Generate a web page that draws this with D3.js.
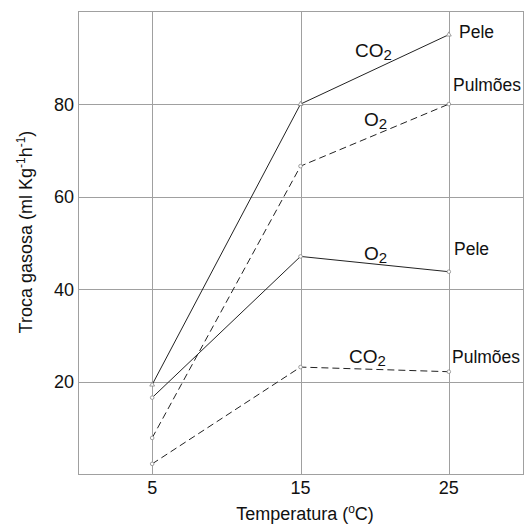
<!DOCTYPE html>
<html>
<head>
<meta charset="utf-8">
<script src="https://d3js.org/d3.v7.min.js"></script>
<style>
body { margin: 0; background: #fff; }
svg { font-family: "Liberation Sans", Arial, sans-serif; }
.grid line { stroke: #a0a0a0; stroke-width: 1; shape-rendering: crispEdges; }
</style>
</head>
<body>
<div id="canvas"></div>
<script>
var temps = [5, 15, 25];
var xTicks = [5, 15, 25];
var yTicks = [20, 40, 60, 80];
var co2Pele = [19.4, 80, 95];
var o2Pulmoes = [7.9, 66.6, 80];
var o2Pele = [16.6, 47.1, 43.8];
var co2Pulmoes = [2.3, 23.2, 22.2];

var width = 527, height = 525,
    pLeft = 78, pRight = 523, pTop = 11.5, pBottom = 474.5;

var svg = d3.select("#canvas").append("svg")
    .attr("width", width).attr("height", height);

var x = d3.scaleLinear().domain([0, 30]).range([pLeft, pRight]);
var y = d3.scaleLinear().domain([0, 100]).range([pBottom, pTop]);

// grid
var grid = svg.append("g").attr("class", "grid");
grid.selectAll(".gx").data(xTicks).enter().append("line")
    .attr("x1", function(d) { return Math.round(x(d)) + 0.5; })
    .attr("x2", function(d) { return Math.round(x(d)) + 0.5; })
    .attr("y1", pTop).attr("y2", pBottom);
grid.selectAll(".gy").data(yTicks).enter().append("line")
    .attr("y1", function(d) { return Math.round(y(d)) + 0.5; })
    .attr("y2", function(d) { return Math.round(y(d)) + 0.5; })
    .attr("x1", pLeft).attr("x2", pRight);
svg.append("rect")
    .attr("x", pLeft).attr("y", pTop)
    .attr("width", pRight - pLeft).attr("height", pBottom - pTop)
    .attr("fill", "none").attr("stroke", "#a0a0a0").attr("shape-rendering", "crispEdges");

// tick labels
svg.selectAll(".ty").data(yTicks).enter().append("text")
    .attr("x", pLeft - 4).attr("y", function(d) { return y(d) + 6.5; })
    .attr("text-anchor", "end").attr("font-size", 18).attr("fill", "#111")
    .text(function(d) { return d; });
svg.selectAll(".tx").data(xTicks).enter().append("text")
    .attr("x", function(d) { return x(d); }).attr("y", 494)
    .attr("text-anchor", "middle").attr("font-size", 18).attr("fill", "#111")
    .text(function(d) { return d; });

// axis titles
var xt = svg.append("text").attr("x", 305).attr("y", 520)
    .attr("text-anchor", "middle").attr("font-size", 18).attr("fill", "#111");
xt.append("tspan").text("Temperatura (");
xt.append("tspan").attr("dy", -7).attr("font-size", 12).text("o");
xt.append("tspan").attr("dy", 7).text("C)");

var yt = svg.append("text").attr("transform", "translate(32,232) rotate(-90)")
    .attr("text-anchor", "middle").attr("font-size", 18).attr("fill", "#111");
yt.append("tspan").text("Troca gasosa (ml Kg");
yt.append("tspan").attr("dy", -7).attr("font-size", 12).text("-1");
yt.append("tspan").attr("dy", 7).text("h");
yt.append("tspan").attr("dy", -7).attr("font-size", 12).text("-1");
yt.append("tspan").attr("dy", 7).text(")");

// series
var line = d3.line()
    .x(function(d, i) { return x(temps[i]); })
    .y(function(d) { return y(d); });

function drawSeries(vals, dashed, marker) {
    svg.append("path").datum(vals)
        .attr("fill", "none").attr("stroke", "#222").attr("stroke-width", 1)
        .attr("stroke-dasharray", dashed ? "7,4" : null)
        .attr("d", line);
    if (marker === "tri") {
        svg.selectAll(null).data(vals).enter().append("path")
            .attr("d", d3.symbol().type(d3.symbolTriangle).size(10))
            .attr("transform", function(d, i) { return "translate(" + x(temps[i]) + "," + y(d) + ")"; })
            .attr("fill", "#fff").attr("stroke", "#888").attr("stroke-width", 0.8);
    } else {
        svg.selectAll(null).data(vals).enter().append("circle")
            .attr("cx", function(d, i) { return x(temps[i]); })
            .attr("cy", function(d) { return y(d); })
            .attr("r", 1.8)
            .attr("fill", "#fff").attr("stroke", "#888").attr("stroke-width", 0.8);
    }
}
drawSeries(co2Pele, false, "tri");
drawSeries(o2Pulmoes, true, "circ");
drawSeries(o2Pele, false, "circ");
drawSeries(co2Pulmoes, true, "circ");

// labels
function gasLabel(px, py, gas) {
    var t = svg.append("text").attr("x", px).attr("y", py)
        .attr("font-size", 19).attr("fill", "#111");
    t.append("tspan").text(gas);
    t.append("tspan").attr("dy", 3).attr("font-size", 15).text("2");
}
function plainLabel(px, py, s) {
    svg.append("text").attr("x", px).attr("y", py)
        .attr("font-size", 17.5).attr("fill", "#111").text(s);
}
gasLabel(355, 57, "CO");
gasLabel(364, 126, "O");
gasLabel(364, 260, "O");
gasLabel(349, 363, "CO");
plainLabel(459, 37.5, "Pele");
plainLabel(453, 91, "Pulmões");
plainLabel(454, 255, "Pele");
plainLabel(452, 363, "Pulmões");
</script>
</body>
</html>
